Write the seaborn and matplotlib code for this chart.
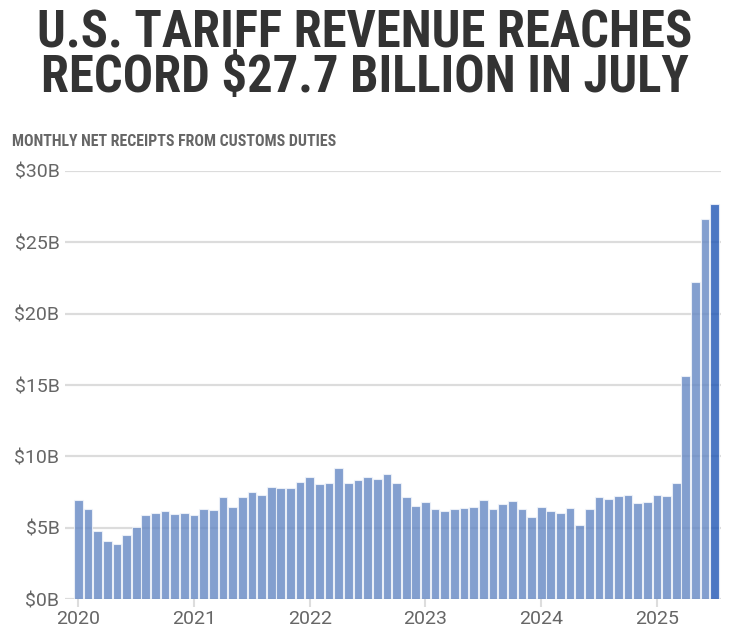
import numpy as np
import pandas as pd
import matplotlib
matplotlib.use("Agg")
import matplotlib.pyplot as plt
import seaborn as sns
from matplotlib import font_manager as fm

# ---------------- data (billions of USD, monthly net customs receipts) ----------------
receipts_2020 = [6.93, 6.30, 4.81, 4.11, 3.85, 4.48, 5.04, 5.91, 6.05, 6.16, 5.98, 6.05]
receipts_2021 = [5.88, 6.33, 6.28, 7.14, 6.44, 7.17, 7.52, 7.28, 7.87, 7.77, 7.82, 8.22]
receipts_2022 = [8.59, 8.05, 8.17, 9.17, 8.12, 8.38, 8.54, 8.45, 8.75, 8.17, 7.17, 6.56]
receipts_2023 = [6.84, 6.35, 6.16, 6.35, 6.37, 6.47, 6.93, 6.33, 6.68, 6.91, 6.30, 5.74]
receipts_2024 = [6.47, 6.21, 6.05, 6.37, 5.21, 6.33, 7.14, 7.03, 7.24, 7.28, 6.72, 6.82]
receipts_2025 = [7.33, 7.24, 8.17, 15.64, 22.18, 26.63, 27.7]
year_labels = ["2020", "2021", "2022", "2023", "2024", "2025"]
y_ticks = [0, 5, 10, 15, 20, 25, 30]

values = receipts_2020 + receipts_2021 + receipts_2022 + receipts_2023 + receipts_2024 + receipts_2025
months = pd.date_range("2020-01-01", periods=len(values), freq="MS").strftime("%Y-%m").tolist()
df = pd.DataFrame({"month": months, "value": values})
df["group"] = ["past"] * (len(df) - 1) + ["latest"]

# ---------------- style ----------------
sns.set_theme(style="white")
plt.rcParams["font.family"] = ["Roboto", "DejaVu Sans"]

def find_condensed(bold=True):
    prefs = []
    for f in fm.fontManager.ttflist:
        nm = f.name
        cond = (f.stretch in ("condensed", "semi-condensed", "extra-condensed")
                or "Condensed" in nm or "Narrow" in nm)
        if not cond or f.style != "normal":
            continue
        w = f.weight if isinstance(f.weight, int) else {"bold": 700, "normal": 400}.get(f.weight, 400)
        score = 0
        if "Roboto" in nm:
            score += 30
        elif "Liberation" in nm:
            score += 20
        elif "DejaVu" in nm:
            score += 10
        score -= abs(w - (700 if bold else 400)) / 50
        prefs.append((score, f.fname))
    if not prefs:
        return None
    prefs.sort(reverse=True)
    return prefs[0][1]

cond_bold = find_condensed(True)
if cond_bold:
    head_fp = fm.FontProperties(fname=cond_bold)
else:
    head_fp = fm.FontProperties(family="Roboto", weight="bold")

W, H = 731, 636
fig = plt.figure(figsize=(W / 100, H / 100), dpi=100)
fig.patch.set_facecolor("white")

ax_left, ax_right = 65, 721
ax_bottom, ax_top = 599.3, 170.7
ax = fig.add_axes([ax_left / W, 1 - ax_bottom / H, (ax_right - ax_left) / W, (ax_bottom - ax_top) / H])

sns.barplot(data=df, x="month", y="value", hue="group",
            palette={"past": "#6487c3", "latest": "#1f55b4"},
            dodge=False, legend=False, width=0.9, alpha=0.8, saturation=1,
            edgecolor="#f4f7fc", linewidth=0.8, ax=ax)

ax.set_ylim(0, 30)
ax.set_xlim(-1.38, len(values) - 0.35)
ax.set_yticks(y_ticks)
ax.set_yticklabels([f"${v}B" for v in y_ticks])
ax.set_xticks([0, 12, 24, 36, 48, 60])
ax.set_xticklabels(year_labels)
ax.set_xlabel("")
ax.set_ylabel("")
ax.yaxis.grid(True, color="#dcdcdc", linewidth=1.6)
ax.xaxis.grid(False)
ax.set_axisbelow(True)
for s in ax.spines.values():
    s.set_visible(False)
ax.tick_params(axis="y", length=0, pad=4, labelsize=14, labelcolor="#666666")
ax.tick_params(axis="x", length=6, width=1.5, color="#dddddd", pad=2,
               labelsize=14, labelcolor="#666666", direction="out", bottom=True)

# ---------------- headings ----------------
CAP = 0.711  # cap-height / em for Roboto family

def fit_text(x, y_px, s, max_w, cap_px, fp, color, ha):
    size = cap_px / CAP * 72 / 100
    t = fig.text(x / W, 1 - y_px / H, s, fontproperties=fp, fontsize=size,
                 color=color, ha=ha, va="baseline")
    r = fig.canvas.get_renderer()
    bb = t.get_window_extent(renderer=r)
    if bb.width > max_w:
        t.set_fontsize(size * max_w / bb.width)
    return t

fit_text(365, 47.5, "U.S. TARIFF REVENUE REACHES", 685, 36, head_fp, "#333333", "center")
fit_text(365, 92, "RECORD $27.7 BILLION IN JULY", 664, 36, head_fp, "#333333", "center")
fit_text(12, 146.5, "MONTHLY NET RECEIPTS FROM CUSTOMS DUTIES", 325, 12, head_fp, "#666666", "left")

fig.savefig("out.png", dpi=100, facecolor="white")
